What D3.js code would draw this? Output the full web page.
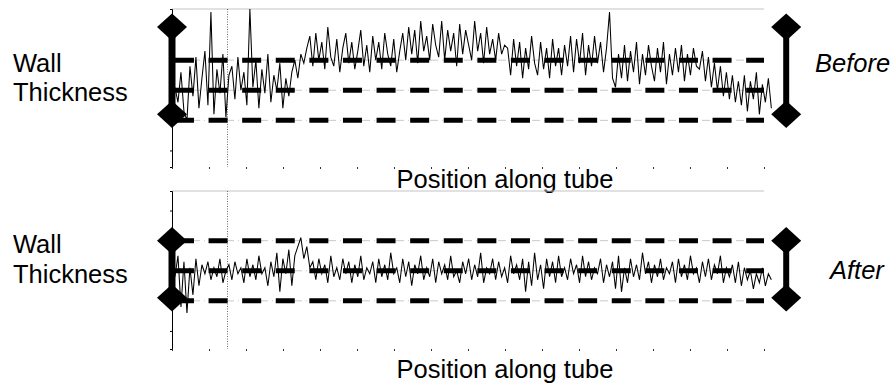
<!DOCTYPE html>
<html>
<head>
<meta charset="utf-8">
<script src="https://cdn.jsdelivr.net/npm/d3@7/dist/d3.min.js"></script>
<style>
  body { margin: 0; background: #fff; }
  text { font-family: "Liberation Sans", Arial, Helvetica, sans-serif; fill: #000; }
</style>
</head>
<body>
<svg id="chart" width="893" height="387"></svg>
<script>
// wall thickness readings along the tube (nominal = 100), one per sample
const beforeValues = [
  101, 96, 106, 93, 90, 108, 98, 111, 94, 104, 113, 95, 126, 92, 107, 99, 112, 91, 105,
  108, 97, 111, 100, 106, 95, 127, 101, 110, 94, 107, 99, 112, 96, 105, 100, 109, 94, 104, 98,
  106, 110, 104, 112, 109, 114,
  118, 108, 119, 110, 116, 107, 121, 111, 108, 117, 106, 114, 119, 109, 116, 107, 113, 120, 108, 115,
  106, 118, 110, 116, 107, 119, 112, 108, 117, 106, 113,
  119, 110, 121, 112, 120, 109, 123, 113, 118, 110, 122, 115, 111, 123, 110, 120, 113, 119, 108, 122,
  112, 120, 115, 110, 123, 113, 119, 109, 121, 112, 117, 110, 119, 112, 115,
  114, 105, 117, 108, 116, 104, 114, 107, 118, 109, 105, 116, 107, 114, 104, 117, 108, 114, 105, 115,
  108, 118, 106, 117, 109, 119, 105, 115, 108, 118, 109, 116, 106, 114, 126, 104,
  101, 112, 104, 115, 103, 113, 106, 116, 102, 112, 105, 115, 108, 103, 114, 106, 116, 102, 112, 105,
  114, 106, 115, 103, 112, 105, 114, 108, 107,
  113, 103, 111, 101, 109, 100, 108, 98, 106, 97, 105, 96, 103,
  95, 105, 93, 103, 97, 106, 92, 102, 96, 104, 94
];

const afterValues = [
  98, 105, 88, 103, 86, 101, 92, 104, 95, 102,
  99, 103, 97, 101, 98, 104, 96, 100, 102, 97, 103, 99, 101, 96, 104, 98, 102, 97, 105, 99, 101,
  95, 103, 98, 106, 93, 104, 99, 107, 95, 105, 108, 111, 104, 108, 101,
  103, 97, 104, 99, 102, 96, 105, 98, 101, 97,
  104, 99, 103, 96, 102, 98, 105, 97, 101, 99,
  103, 96, 104, 98, 102, 97, 106, 99, 101, 96,
  104, 98, 103, 95, 102, 99, 105, 97, 101, 98,
  104, 96, 103, 99, 102, 97, 105, 98, 100, 96,
  103, 99, 104, 97, 102, 98, 106, 96, 101, 99,
  104, 97, 103, 98, 101, 96, 105, 99, 102, 97,
  104, 93, 103, 95, 106, 97, 102, 94, 104, 98,
  103, 96, 105, 98, 101, 97, 104, 99, 102, 96,
  105, 98, 103, 97, 101, 99, 104, 96, 102, 98,
  103, 94, 105, 93, 101, 96, 104, 98, 102, 97,
  106, 99, 103, 96, 102, 98, 104, 97, 101, 99,
  103, 96, 104, 98, 102, 97, 105, 99, 101, 96,
  103, 98, 104, 97, 102, 99, 105, 96, 101, 98,
  102, 96, 103, 95, 101, 97, 100, 94, 99, 96,
  101, 95, 99, 97
];

const sampleStart = 0.08, sampleStep = 0.081;   // position of first sample, spacing
const limitLines = [90, 100, 110];               // lower / nominal / upper
const beforeRange = [92, 121];
const afterRange = [91, 110];
const xTicks = [0, 1, 2, 3, 4, 5, 6, 7, 8, 9, 10, 11, 12, 13, 14, 15, 16];
const yTicks = [80, 90, 100, 110, 120];
const markerPos = 1.5;                           // dotted vertical marker
const barPos = 16.6;                             // right-hand range bar

const svg = d3.select("#chart");

const x = d3.scaleLinear().domain([0, 16]).range([172, 764]);

function drawPanel(values, range, yDomain, yRange, label, labelY, sideY) {
  const g = svg.append("g");
  const y = d3.scaleLinear().domain(yDomain).range(yRange);
  const top = yRange[1], bottom = yRange[0];

  // faint top frame
  g.append("line")
    .attr("x1", x(0)).attr("x2", x(16))
    .attr("y1", top).attr("y2", top)
    .attr("stroke", "#c4c4c4").attr("stroke-width", 1);

  // left axis with tiny ticks
  g.append("g")
    .attr("transform", "translate(" + x(0) + ",0)")
    .call(d3.axisLeft(y).tickValues(yTicks).tickSize(2).tickFormat(""))
    .call(a => a.select(".domain").attr("stroke", "#000").attr("stroke-width", 1));

  // bottom ticks only, no axis line
  g.append("g")
    .attr("transform", "translate(0," + bottom + ")")
    .call(d3.axisBottom(x).tickValues(xTicks).tickSize(2).tickFormat(""))
    .call(a => a.select(".domain").remove())
    .call(a => a.selectAll("line").attr("stroke", "#333"));

  // dotted marker
  g.append("line")
    .attr("x1", x(markerPos)).attr("x2", x(markerPos))
    .attr("y1", top).attr("y2", bottom)
    .attr("stroke", "#444").attr("stroke-width", 0.8)
    .attr("stroke-dasharray", "1,1.5");

  // limit lines: thin dash-dot underneath, heavy dashes on top
  g.selectAll(".thin").data(limitLines).enter().append("line")
    .attr("x1", x(sampleStart)).attr("x2", x(16))
    .attr("y1", d => y(d)).attr("y2", d => y(d))
    .attr("stroke", "#b0b0b0").attr("stroke-width", 0.7)
    .attr("stroke-dasharray", "8,4,1,4");

  // trace
  const line = d3.line()
    .x((d, i) => x(sampleStart + i * sampleStep))
    .y(d => y(d));

  g.append("path")
    .datum(values)
    .attr("fill", "none")
    .attr("stroke", "#000")
    .attr("stroke-width", 1.05)
    .attr("d", line);

  g.selectAll(".thick").data(limitLines).enter().append("line")
    .attr("x1", x(sampleStart)).attr("x2", x(16))
    .attr("y1", d => y(d)).attr("y2", d => y(d))
    .attr("stroke", "#000").attr("stroke-width", 5)
    .attr("stroke-dasharray", "19,14.6");

  // range bars with diamond ends, left and right
  const diamond = d3.symbol().type(d3.symbolSquare).size(400);
  [[0, 7], [barPos, 6]].forEach(([p, w]) => {
    g.append("line")
      .attr("x1", x(p)).attr("x2", x(p))
      .attr("y1", y(range[0])).attr("y2", y(range[1]))
      .attr("stroke", "#000").attr("stroke-width", w);
    g.selectAll(null).data(range).enter().append("path")
      .attr("d", diamond)
      .attr("fill", "#000")
      .attr("transform", d => "translate(" + x(p) + "," + y(d) + ") scale(1.06,0.96) rotate(45)");
  });

  // texts
  const wall = g.append("text").attr("x", 13).attr("font-size", 25.5);
  wall.append("tspan").attr("x", 13).attr("y", sideY[0]).text("Wall");
  wall.append("tspan").attr("x", 13).attr("y", sideY[1]).text("Thickness");

  g.append("text")
    .attr("x", label[1]).attr("y", sideY[2])
    .attr("font-size", 25.5).attr("font-style", "italic")
    .text(label[0]);

  g.append("text")
    .attr("x", 505).attr("y", labelY)
    .attr("text-anchor", "middle").attr("font-size", 25.5)
    .text("Position along tube");
}

drawPanel(beforeValues, beforeRange, [74.5, 127], [167, 9], ["Before", 815], 188, [72, 101, 72]);
drawPanel(afterValues, afterRange, [74, 126.5], [349, 191], ["After", 830], 378, [253, 283, 279]);
</script>
</body>
</html>
